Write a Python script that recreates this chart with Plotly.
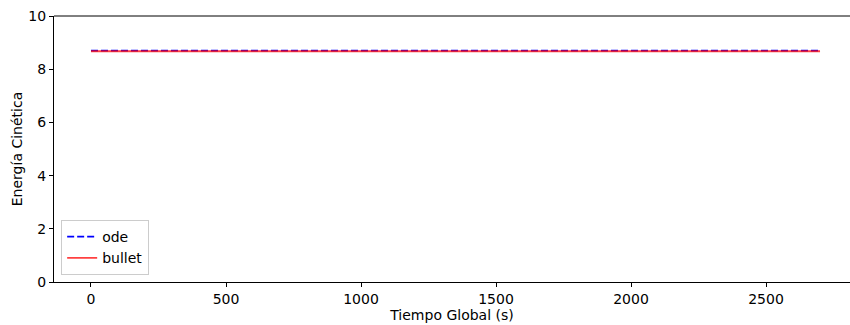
import plotly.graph_objects as go

# Data
tiempo = [0, 300, 600, 900, 1200, 1500, 1800, 2100, 2400, 2700]
energia_ode = [8.70, 8.70, 8.70, 8.70, 8.70, 8.70, 8.70, 8.70, 8.70, 8.70]
energia_bullet = [8.675, 8.675, 8.675, 8.675, 8.675, 8.675, 8.675, 8.675, 8.675, 8.675]
x_ticks = [0, 500, 1000, 1500, 2000, 2500]
y_ticks = [0, 2, 4, 6, 8, 10]

fig = go.Figure()
fig.add_trace(go.Scatter(x=tiempo, y=energia_ode, mode="lines", name="ode",
                         line=dict(color="blue", dash="7px,3px", width=1.8)))
fig.add_trace(go.Scatter(x=tiempo, y=energia_bullet, mode="lines", name="bullet",
                         line=dict(color="rgba(255,0,0,0.75)", width=1.8)))

fs = 14
fig.update_layout(
    width=850, height=325,
    margin=dict(l=54, r=0, t=16, b=43),
    paper_bgcolor="white", plot_bgcolor="white",
    font=dict(family="DejaVu Sans", size=fs, color="black"),
    showlegend=True,
    legend=dict(x=0.009, y=0.026, xanchor="left", yanchor="bottom",
                bgcolor="rgba(255,255,255,0.8)", bordercolor="#cccccc", borderwidth=1,
                font=dict(size=fs), tracegroupgap=0, itemwidth=30),
    xaxis=dict(range=[-137, 2811], tickvals=x_ticks, showgrid=False, zeroline=False,
               showline=True, linecolor="black", linewidth=1,
               ticks="outside", ticklen=4, tickcolor="black", tickfont=dict(size=fs),
               title=dict(text="Tiempo Global (s)", standoff=3, font=dict(size=fs))),
    yaxis=dict(range=[0, 10], tickvals=y_ticks, showgrid=False, zeroline=False,
               showline=True, linecolor="black", linewidth=1,
               ticks="outside", ticklen=4, tickcolor="black", tickfont=dict(size=fs),
               title=dict(text="Energía Cinética", standoff=2, font=dict(size=fs))),
)
fig.add_shape(type="line", xref="paper", yref="paper", x0=0, x1=1, y0=1, y1=1,
              line=dict(color="black", width=1))

fig.write_html("out.html")
